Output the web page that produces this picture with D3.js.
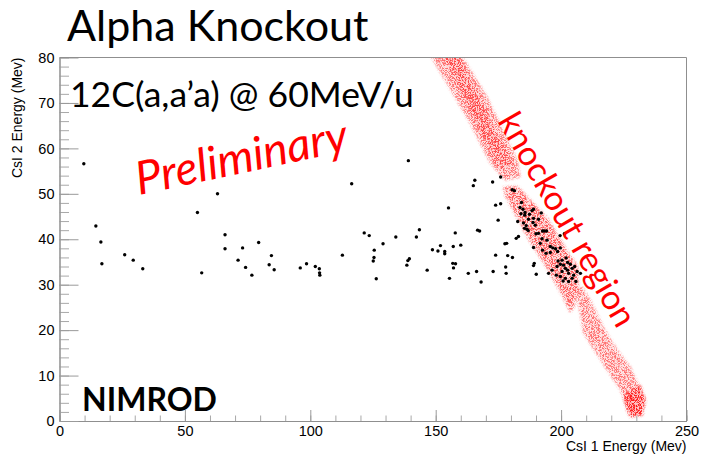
<!DOCTYPE html>
<html>
<head>
<meta charset="utf-8">
<script src="https://cdn.jsdelivr.net/npm/d3@7"></script>
<style>
  html, body { margin: 0; padding: 0; background: #fff; }
  svg { display: block; }
</style>
</head>
<body>
<svg id="chart" width="705" height="455"></svg>
<script>
// ---- data ---------------------------------------------------------------
// Measured (CsI 1, CsI 2) energy pairs in MeV
const events = [
  [9.7,56.6],[14.5,42.9],[16.5,39.4],[16.9,34.6],[26.0,36.6],[29.4,35.4],[33.2,33.5],
  [55.0,45.9],[56.7,32.6],[63.0,50.0],[66.0,41.0],[66.0,37.9],[71.2,35.4],[73.0,38.1],
  [74.2,33.8],[76.7,32.1],[79.4,39.3],[83.6,34.4],[84.5,36.4],[85.6,33.3],[96.0,33.7],
  [98.5,34.6],[102.0,34.0],[103.6,33.5],[103.7,32.6],[103.8,32.1],[112.8,36.5],[116.5,52.2],
  [121.5,41.4],[123.5,40.8],[125.5,37.6],[125.4,36.0],[125.1,35.2],[126.3,31.3],[129.0,39.0],
  [134.1,40.5],[139.1,57.3],[165.6,53.0],[165.0,51.8],[172.7,52.6],[175.9,53.7],[155.1,46.9],
  [173.9,47.5],[175.9,47.8],[174.9,44.2],[143.5,42.1],[142.3,40.5],[157.8,41.4],[166.7,42.0],
  [167.5,41.8],[151.9,38.6],[148.7,37.7],[150.9,37.4],[153.6,37.3],[153.6,36.8],[157.0,38.4],
  [160.0,38.7],[139.5,35.7],[138.9,35.3],[138.5,34.3],[146.6,33.2],[156.8,34.7],[157.9,34.6],
  [157.1,33.7],[155.5,31.4],[163.0,32.5],[166.3,32.9],[168.1,30.6],[172.9,32.9],[173.9,36.5],
  [177.6,39.0],[178.3,39.1],[178.7,36.4],[177.9,33.9],[178.1,32.5],
  [180.5,50.9],[181.4,50.7],[184.2,48.1],[183.6,47.0],[184.8,46.6],[184.0,45.6],[185.6,45.9],
  [185.5,45.3],[187.4,45.5],[188.4,46.3],[189.0,46.6],[187.0,44.4],[189.0,44.6],[192.1,45.8],
  [185.0,43.6],[186.1,43.0],[185.4,42.4],[186.4,42.2],[188.8,43.7],[189.7,43.1],[191.0,41.3],
  [192.6,41.8],[193.3,41.8],[194.2,41.8],[192.4,40.1],[194.4,39.8],[191.7,39.1],[195.7,38.4],
  [195.7,37.1],[189.0,38.2],[190.0,41.2],[199.6,40.8],[201.3,41.2],[183.0,40.6],[182.1,40.2],
  [180.6,36.0],[190.1,32.3],[189.3,34.7],[189.0,34.2],[192.6,37.6],[194.0,36.9],[196.7,38.1],
  [197.8,37.9],[198.6,37.3],[199.7,38.1],[191.0,44.4],[182.7,43.9],[186.9,41.9],
  [198.8,35.2],[200.4,35.4],[199.7,34.5],[198.4,34.0],[201.0,34.3],[202.6,34.9],[203.7,34.5],
  [201.7,33.6],[202.6,33.2],[204.4,33.6],[205.4,34.0],[206.4,32.9],[200.4,32.9],[203.0,32.5],
  [205.0,32.1],[204.4,31.4],[201.7,31.4],[203.0,30.7],[200.8,30.8],[205.9,30.7],[207.7,32.5],
  [196.4,33.2],[198.1,32.1],[199.7,31.8],[195.0,32.5],[202.0,35.9]
];

// Simulated knockout-region outlines (MeV, MeV) with relative event density
const bandUpper = [[146.6,81.7],[158.9,81.7],[170.5,71.3],[182.5,57.4],[183.7,53.7],
                   [177.7,53.0],[171.7,56.8],[163.7,65.6]];
const bandUpperCore = [[151.8,81.7],[157.8,81.7],[180.5,56.6],[175.7,55.0]];
const bandMiddle = [[176.9,51.5],[182.5,51.7],[194.5,44.7],[201.3,38.5],[206.5,34.1],
                    [206.9,29.9],[205.3,25.3],[203.7,23.8],[200.5,27.5],[193.3,34.6],
                    [187.7,39.4],[177.7,49.5]];
const bandLower = [[205.7,29.5],[208.5,29.5],[211.7,26.6],[216.9,20.7],[222.4,15.6],
                   [227.6,11.9],[233.6,4.6],[232.4,1.3],[227.6,0.9],[226.4,2.4],
                   [223.6,6.8],[215.7,13.4],[208.9,19.4]];
const bandLowerCore = [[225.2,5.7],[231.6,7.9],[233.6,4.6],[232.4,1.3],[227.6,0.9],[226.0,2.9]];
const bandDensity = [0.5, 0.35, 0.6, 0.5, 0.7];

const xMajorTicks = [0, 50, 100, 150, 200, 250];
const yMajorTicks = [0, 10, 20, 30, 40, 50, 60, 70, 80];

// ---- layout -------------------------------------------------------------
const svg = d3.select("#chart");
const plotLeft = 59.5, plotRight = 686.5, plotTop = 57.5, plotBottom = 421;
const x = d3.scaleLinear().domain([0, 250]).range([plotLeft, plotRight]);
const y = d3.scaleLinear().domain([0, 80]).range([plotBottom, plotTop]);

const calibri = "Lato, 'Open Sans', sans-serif";
const helv = "'Liberation Sans', Arial, Helvetica, sans-serif";
const axisGray = "#8f8f8f";

// speckle texture for the simulated density bands: a faint tint plus fine red grain
const defs = svg.append("defs");
const f = defs.append("filter").attr("id", "speckle")
  .attr("x", "-20%").attr("y", "-20%").attr("width", "140%").attr("height", "140%")
  .attr("color-interpolation-filters", "sRGB");
f.append("feGaussianBlur").attr("in", "SourceAlpha").attr("stdDeviation", 1.8).attr("result", "soft");
f.append("feFlood").attr("flood-color", "#ff0000").attr("flood-opacity", 0.2).attr("result", "flood");
f.append("feComposite").attr("in", "flood").attr("in2", "soft").attr("operator", "in").attr("result", "tint");
f.append("feTurbulence").attr("type", "fractalNoise").attr("baseFrequency", 1.4)
  .attr("numOctaves", 1).attr("seed", 11).attr("result", "noise");
f.append("feColorMatrix").attr("in", "noise").attr("type", "matrix")
  .attr("values", "0 0 0 0 1  0 0 0 0 0  0 0 0 0 0  6 0 0 0 -2.6").attr("result", "dots");
f.append("feComposite").attr("in", "dots").attr("in2", "soft").attr("operator", "in").attr("result", "grain");
const merge = f.append("feMerge");
merge.append("feMergeNode").attr("in", "tint");
merge.append("feMergeNode").attr("in", "grain");

defs.append("clipPath").attr("id", "plotClip")
  .append("rect").attr("x", plotLeft).attr("y", plotTop)
  .attr("width", plotRight - plotLeft).attr("height", plotBottom - plotTop);

// ---- bands --------------------------------------------------------------
const line = d3.line().x(d => x(d[0])).y(d => y(d[1])).curve(d3.curveLinearClosed);
const bands = [bandUpper, bandUpperCore, bandMiddle, bandLower, bandLowerCore];
svg.append("g").attr("clip-path", "url(#plotClip)")
  .selectAll("path").data(bands).join("path")
  .attr("d", line)
  .attr("fill", "#ff0000")
  .attr("fill-opacity", (d, i) => bandDensity[i])
  .attr("filter", "url(#speckle)");

// ---- axes ---------------------------------------------------------------
const gx = svg.append("g").attr("transform", `translate(0,${plotBottom})`);
gx.call(d3.axisBottom(x).tickValues(d3.range(0, 251, 10)).tickSize(-5.5).tickSizeOuter(0).tickFormat(""));
gx.call(g => g.selectAll(".tick line").attr("stroke", "#a8a8a8"));
const gx2 = svg.append("g").attr("transform", `translate(0,${plotBottom})`);
gx2.call(d3.axisBottom(x).tickValues(xMajorTicks).tickSize(-11).tickSizeOuter(0).tickPadding(5).tickFormat(d3.format("d")));

const gy = svg.append("g").attr("transform", `translate(${plotLeft},0)`);
gy.call(d3.axisLeft(y).tickValues(d3.range(0, 81, 2)).tickSize(-9.5).tickSizeOuter(0).tickFormat(""));
gy.call(g => g.selectAll(".tick line").attr("stroke", "#a8a8a8"));
const gy2 = svg.append("g").attr("transform", `translate(${plotLeft},0)`);
gy2.call(d3.axisLeft(y).tickValues(yMajorTicks).tickSize(-19).tickSizeOuter(0).tickPadding(5).tickFormat(d3.format("d")));

[gx, gx2, gy, gy2].forEach(g => {
  g.select(".domain").attr("stroke", axisGray);
  g.selectAll("text").attr("font-family", helv).attr("font-size", 14.5).attr("fill", "#000");
});
[gx2, gy2].forEach(g => g.selectAll(".tick line").attr("stroke", "#9a9a9a"));

// frame top and right
svg.append("path")
  .attr("d", `M${plotLeft},${plotTop}H${plotRight}V${plotBottom}`)
  .attr("fill", "none").attr("stroke", axisGray);

// axis titles
svg.append("text").attr("x", plotRight).attr("y", 451)
  .attr("text-anchor", "end").attr("font-family", helv).attr("font-size", 14)
  .text("CsI 1 Energy (Mev)");
svg.append("text").attr("transform", `translate(22,${plotTop}) rotate(-90)`)
  .attr("text-anchor", "end").attr("font-family", helv).attr("font-size", 14)
  .text("CsI 2 Energy (Mev)");

// ---- events -------------------------------------------------------------
svg.append("g").selectAll("circle").data(events).join("circle")
  .attr("cx", d => x(d[0])).attr("cy", d => y(d[1]))
  .attr("r", 1.7).attr("fill", "#000");

// ---- annotations --------------------------------------------------------
svg.append("text").attr("x", 67).attr("y", 41)
  .attr("font-family", calibri).attr("font-size", 43).attr("fill", "#000")
  .text("Alpha Knockout");
svg.append("text").attr("x", 70).attr("y", 107)
  .attr("font-family", calibri).attr("font-size", 35.5).attr("fill", "#000")
  .text("12C(a,a’a) @ 60MeV/u");
svg.append("text").attr("transform", "translate(139,195) rotate(-12)")
  .attr("font-family", calibri).attr("font-style", "italic").attr("font-size", 46).attr("fill", "#ff0000")
  .text("Preliminary");
svg.append("text").attr("transform", "translate(497,121) rotate(60)")
  .attr("font-family", calibri).attr("font-size", 34).attr("fill", "#ff0000")
  .text("knockout region");
svg.append("text").attr("x", 82).attr("y", 411)
  .attr("font-family", calibri).attr("font-weight", "bold").attr("font-size", 32).attr("fill", "#000")
  .text("NIMROD");
</script>
</body>
</html>
